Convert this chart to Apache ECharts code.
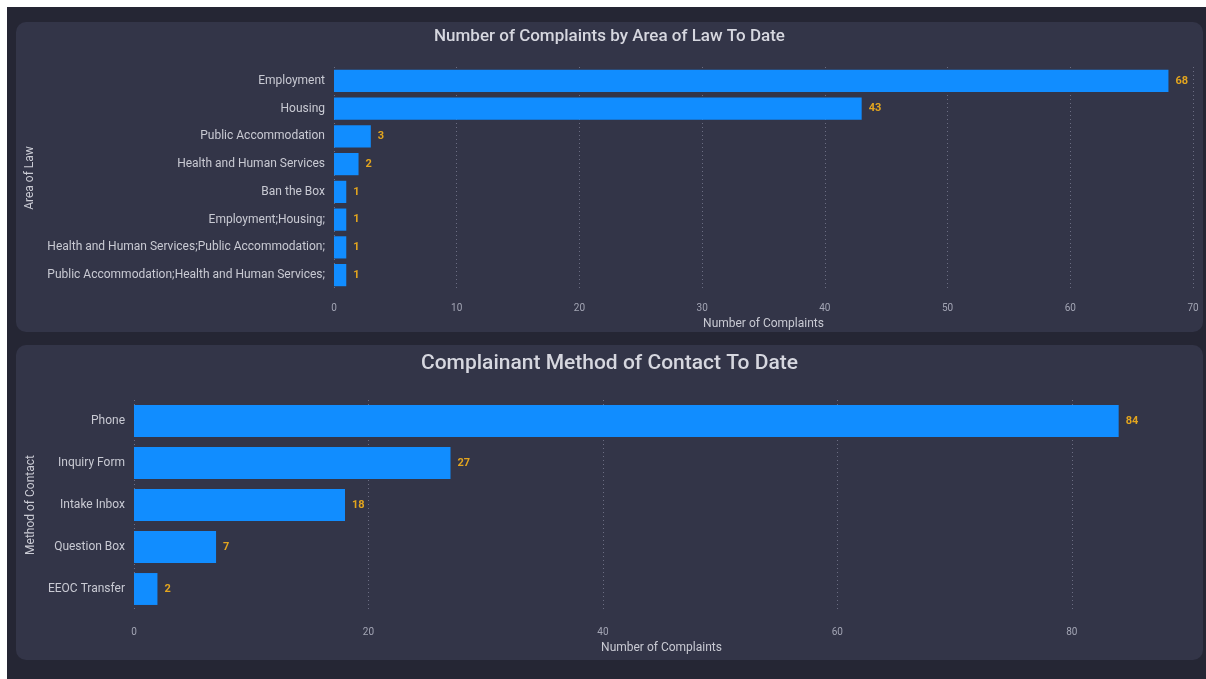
<!DOCTYPE html>
<html>
<head>
<meta charset="utf-8">
<script src="https://cdn.jsdelivr.net/npm/echarts@6/dist/echarts.min.js"></script>
<style>
  html, body { margin: 0; padding: 0; background: #ffffff; }
  .frame { position: absolute; left: 7px; top: 7px; width: 1199px; height: 672px; background: #252634; }
  .panel { position: absolute; left: 16px; width: 1187px; background: #333548; border-radius: 10px; overflow: hidden; }
  .echart { width: 100%; height: 100%; }
</style>
</head>
<body>
<div class="frame"></div>
<div class="panel" style="top: 22px; height: 310px;"><div id="lawChart" class="echart"></div></div>
<div class="panel" style="top: 345px; height: 315px;"><div id="contactChart" class="echart"></div></div>
<script>
// area of law data
const lawCategories = [
  'Employment',
  'Housing',
  'Public Accommodation',
  'Health and Human Services',
  'Ban the Box',
  'Employment;Housing;',
  'Health and Human Services;Public Accommodation;',
  'Public Accommodation;Health and Human Services;',
];
const lawValues = [68, 43, 3, 2, 1, 1, 1, 1];

// method of contact data
const contactCategories = ['Phone', 'Inquiry Form', 'Intake Inbox', 'Question Box', 'EEOC Transfer'];
const contactValues = [84, 27, 18, 7, 2];

const fontFamily = 'Roboto, "Noto Sans", sans-serif';
const barColor = '#118dff';
const valueColor = '#e3a51e';
const labelColor = '#c9cad3';
const tickColor = '#a3a5b4';
const gridColor = '#6b6d82';

const buildOption = (cfg) => ({
  backgroundColor: 'transparent',
  textStyle: { fontFamily: fontFamily },
  title: {
    text: cfg.title,
    left: 'center',
    top: cfg.titleTop,
    textStyle: { color: '#d6d7df', fontSize: cfg.titleSize, fontWeight: 500, fontFamily: fontFamily },
  },
  grid: Object.assign({ outerBoundsMode: 'none', containLabel: false }, cfg.grid),
  xAxis: {
    type: 'value',
    min: 0,
    max: cfg.max,
    interval: cfg.interval,
    name: 'Number of Complaints',
    nameLocation: 'middle',
    nameGap: cfg.xNameGap,
    nameTextStyle: { color: labelColor, fontSize: 12, fontFamily: fontFamily },
    axisLine: { show: false },
    axisTick: { show: false },
    axisLabel: { color: tickColor, fontSize: 10, margin: cfg.xLabelMargin, showMaxLabel: cfg.showMaxLabel },
    splitLine: {
      show: true,
      showMaxLine: cfg.showMaxLabel,
      lineStyle: { color: gridColor, type: [1, 3], width: 1 },
    },
  },
  yAxis: {
    type: 'category',
    inverse: true,
    data: cfg.categories,
    name: cfg.yName,
    nameLocation: 'middle',
    nameRotate: 90,
    nameGap: cfg.yNameGap,
    nameTextStyle: { color: labelColor, fontSize: 12, fontFamily: fontFamily },
    axisLine: { show: false },
    axisTick: { show: false },
    axisLabel: { color: labelColor, fontSize: 12, margin: 9 },
  },
  series: [
    {
      type: 'bar',
      data: cfg.values,
      barCategoryGap: cfg.gap,
      itemStyle: { color: barColor },
      label: {
        show: true,
        position: 'right',
        distance: 7,
        color: valueColor,
        fontSize: 11,
        fontWeight: 'bold',
      },
    },
  ],
});

const lawChart = echarts.init(document.getElementById('lawChart'));
lawChart.setOption(buildOption({
  title: 'Number of Complaints by Area of Law To Date',
  titleTop: 1,
  titleSize: 17,
  grid: { left: 318, right: 10, top: 45, bottom: 43 },
  max: 70,
  interval: 10,
  showMaxLabel: true,
  xNameGap: 27,
  xLabelMargin: 14,
  categories: lawCategories,
  values: lawValues,
  yName: 'Area of Law',
  yNameGap: 296,
  gap: '20%',
}));

const contactChart = echarts.init(document.getElementById('contactChart'));
contactChart.setOption(buildOption({
  title: 'Complainant Method of Contact To Date',
  titleTop: 3,
  titleSize: 21,
  grid: { left: 118, right: 14, top: 55, bottom: 50 },
  max: 90,
  interval: 20,
  showMaxLabel: false,
  xNameGap: 29,
  xLabelMargin: 17,
  categories: contactCategories,
  values: contactValues,
  yName: 'Method of Contact',
  yNameGap: 94,
  gap: '24%',
}));

window.addEventListener('resize', () => {
  lawChart.resize();
  contactChart.resize();
});
</script>
</body>
</html>
